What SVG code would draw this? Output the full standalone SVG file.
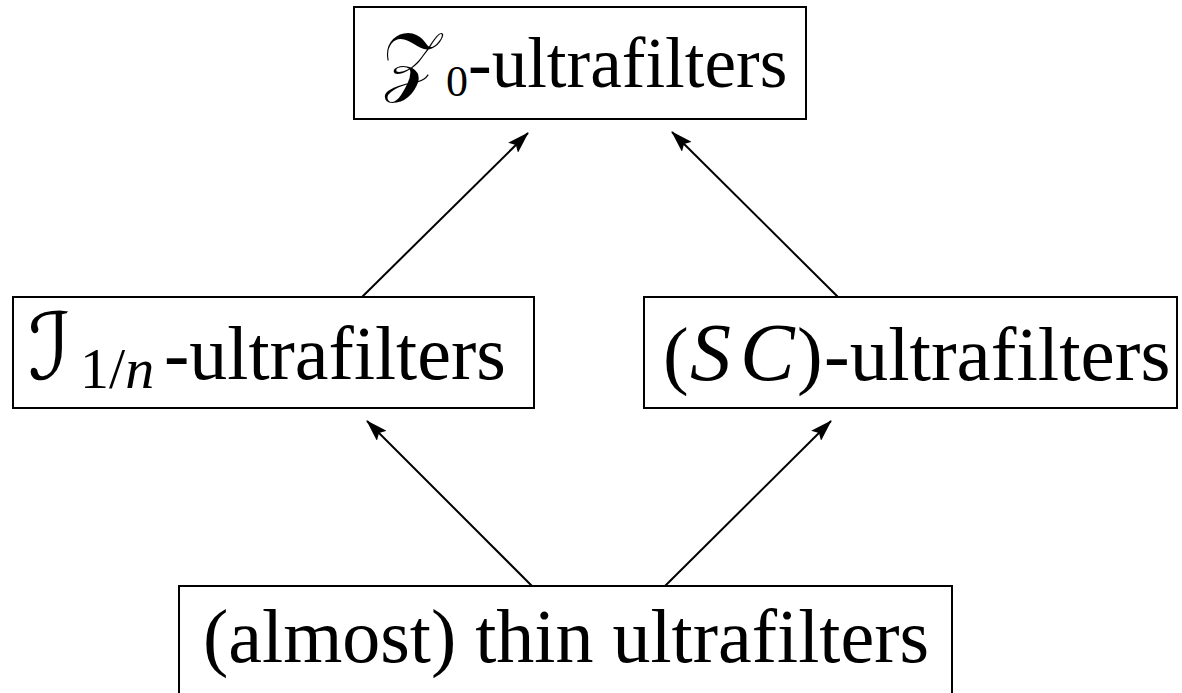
<svg xmlns="http://www.w3.org/2000/svg" width="1182" height="693" viewBox="0 0 1182 693">
<style>
.box{fill:#fff;stroke:#000;stroke-width:2}
.t{font-family:"Liberation Serif","Times New Roman",serif;fill:#000}
.cal{font-family:"DejaVu Serif","DejaVu Sans","Liberation Serif",serif}
.it{font-style:italic}
.edge{stroke:#000;stroke-width:2;fill:none;marker-end:url(#ah)}
</style>
<defs>
<marker id="ah" viewBox="0 0 22 14" refX="21" refY="7" markerWidth="22" markerHeight="14" markerUnits="userSpaceOnUse" orient="auto">
<path d="M0,0 L22,7 L0,14 L4,7 Z" fill="#000"/>
</marker>
</defs>
<g id="connectors">
<line class="edge" x1="362" y1="297" x2="528" y2="133"/>
<line class="edge" x1="838" y1="297" x2="672" y2="132"/>
<line class="edge" x1="532" y1="586" x2="367" y2="421"/>
<line class="edge" x1="665" y1="586" x2="831" y2="421"/>
</g>
<g id="node-z0">
<rect class="box" x="354" y="7" width="452" height="112"/>
<text class="t" y="87" font-size="71"><tspan class="cal" x="382" font-size="76">𝒵</tspan><tspan x="446" y="96" font-size="44">0</tspan><tspan x="468" y="87">-ultrafilters</tspan></text>
</g>
<g id="node-i1n">
<rect class="box" x="13" y="297" width="521" height="111"/>
<text class="t" y="379" font-size="76"><tspan class="cal" x="28" font-size="92">ℐ</tspan><tspan x="80" y="388" font-size="58">1/<tspan class="it">n</tspan></tspan><tspan x="164" y="379">-ultrafilters</tspan></text>
</g>
<g id="node-sc">
<rect class="box" x="644" y="297" width="533" height="111"/>
<text class="t" y="380" font-size="77"><tspan x="663">(</tspan><tspan class="it" x="690" font-size="82">S</tspan><tspan class="it" x="740" font-size="82">C</tspan><tspan x="797">)</tspan><tspan x="824">-ultrafilters</tspan></text>
</g>
<g id="node-thin">
<rect class="box" x="179" y="586" width="773" height="120"/>
<text class="t" x="566" y="662" font-size="76" text-anchor="middle">(almost) thin ultrafilters</text>
</g>
</svg>
